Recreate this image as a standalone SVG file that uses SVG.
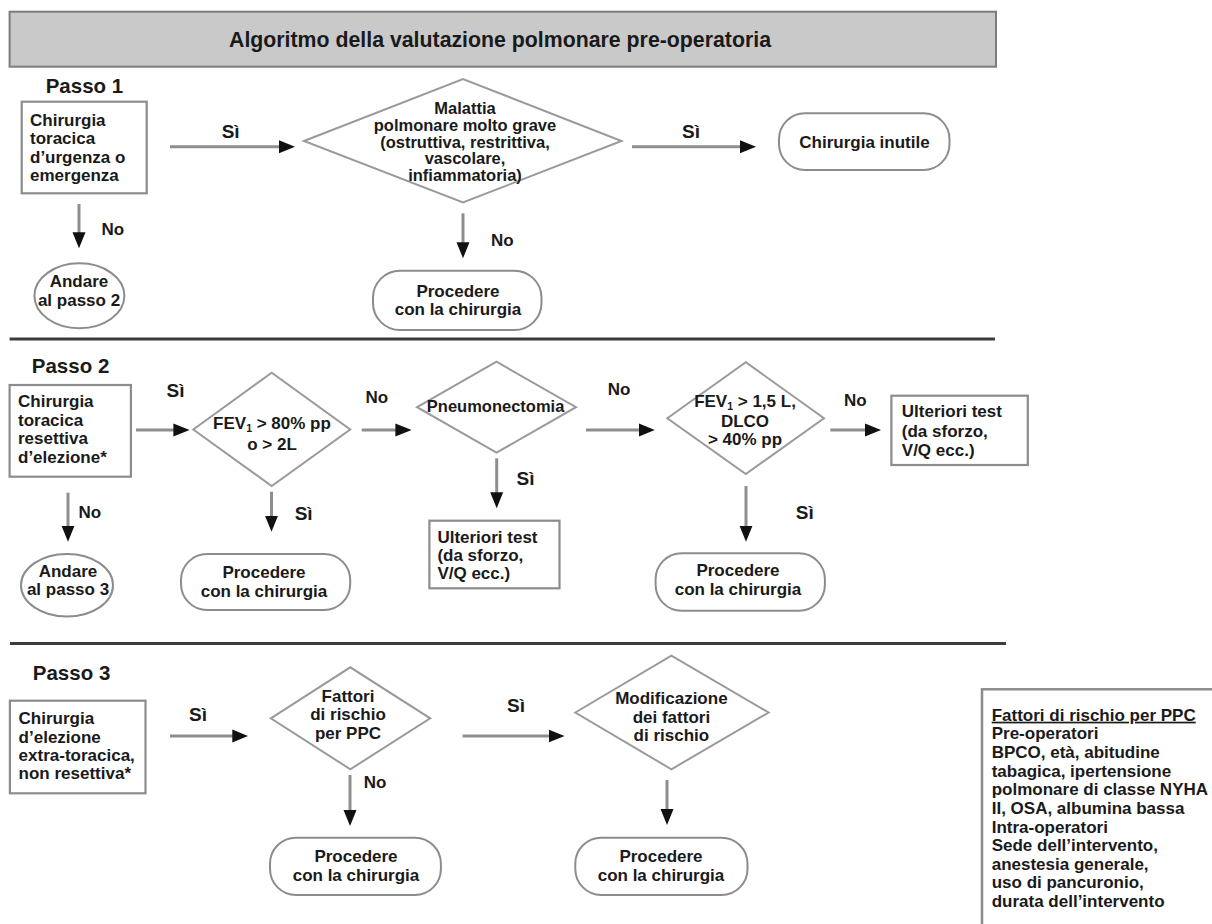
<svg xmlns="http://www.w3.org/2000/svg" width="1212" height="924" viewBox="0 0 1212 924">
<style>
  text { font-family: "Liberation Sans", Arial, "Helvetica", sans-serif; font-weight: bold; fill: #1a1a1a; }
  .t { font-size: 17px; }
  .ts { font-size: 16.5px; }
  .c { text-anchor: middle; }
  .step { font-size: 20.5px; }
  .lbl { font-size: 17px; }
  .si { font-size: 19px; }
  .title { font-size: 21.3px; text-anchor: middle; }
  .box { fill: #ffffff; stroke: #8c8c8c; stroke-width: 2.2; }
  .dia { fill: #ffffff; stroke: #9a9a9a; stroke-width: 2; }
  .term { fill: #ffffff; stroke: #8c8c8c; stroke-width: 2; }
  .conn { fill: none; stroke: #8e8e8e; stroke-width: 3; marker-end: url(#arr); }
  .sep { stroke: #3c3c3c; stroke-width: 3; }
</style>
<defs>
  <marker id="arr" markerUnits="userSpaceOnUse" markerWidth="16" markerHeight="14" refX="6" refY="7" orient="auto">
    <path d="M0,0.5 L16,7 L0,13.5 z" fill="#111111"/>
  </marker>
</defs>
<rect x="0" y="0" width="1212" height="924" fill="#ffffff"/>

<g id="title">
  <rect x="9.6" y="11.7" width="986.4" height="55" fill="#c9c9c9" stroke="#7c7c7c" stroke-width="2"/>
  <text class="title" x="500" y="47">Algoritmo della valutazione polmonare pre-operatoria</text>
</g>

<g id="separators">
  <line class="sep" x1="9.6" y1="339" x2="995" y2="339"/>
  <line class="sep" x1="10" y1="643.5" x2="1006" y2="643.5"/>
</g>

<g id="step-labels">
  <text class="step" x="45.7" y="92.7">Passo 1</text>
  <text class="step" x="31.8" y="373.3">Passo 2</text>
  <text class="step" x="32.8" y="680">Passo 3</text>
</g>

<g id="connectors">
  <line class="conn" x1="170" y1="146.7" x2="285" y2="146.7"/>
  <line class="conn" x1="632" y1="146.7" x2="746" y2="146.7"/>
  <line class="conn" x1="79" y1="204" x2="79" y2="238.3"/>
  <line class="conn" x1="463" y1="213.3" x2="463" y2="248.3"/>
  <line class="conn" x1="136" y1="430" x2="179.4" y2="430"/>
  <line class="conn" x1="68" y1="492.7" x2="68" y2="531.7"/>
  <line class="conn" x1="271.5" y1="491.7" x2="271.5" y2="521.7"/>
  <line class="conn" x1="361.7" y1="430" x2="401.4" y2="430"/>
  <line class="conn" x1="496.7" y1="458.3" x2="496.7" y2="498.3"/>
  <line class="conn" x1="586" y1="430" x2="644.8" y2="430"/>
  <line class="conn" x1="830.3" y1="430" x2="871" y2="430"/>
  <line class="conn" x1="746" y1="486" x2="746" y2="531.7"/>
  <line class="conn" x1="170" y1="736" x2="238.3" y2="736"/>
  <line class="conn" x1="350" y1="775" x2="350" y2="816"/>
  <line class="conn" x1="462.6" y1="736" x2="554.6" y2="736"/>
  <line class="conn" x1="667" y1="780" x2="667" y2="815"/>
  <text class="si" x="221.7" y="138">Sì</text>
  <text class="si" x="682" y="138">Sì</text>
  <text class="lbl" x="101.4" y="235">No</text>
  <text class="lbl" x="491" y="246">No</text>
  <text class="si" x="166.5" y="396.7">Sì</text>
  <text class="lbl" x="78.5" y="518.3">No</text>
  <text class="si" x="294.7" y="520">Sì</text>
  <text class="lbl" x="365.5" y="403.3">No</text>
  <text class="si" x="516.6" y="485">Sì</text>
  <text class="lbl" x="607.8" y="395">No</text>
  <text class="lbl" x="844" y="406">No</text>
  <text class="si" x="795.8" y="519.3">Sì</text>
  <text class="si" x="189" y="721">Sì</text>
  <text class="lbl" x="363.8" y="787.7">No</text>
  <text class="si" x="507" y="711.7">Sì</text>
</g>

<g id="n-urgenza">
  <rect class="box" x="21.7" y="101.7" width="125" height="91.6"/>
  <text class="t" x="30" y="125.7">Chirurgia</text>
  <text class="t" x="30" y="144">toracica</text>
  <text class="t" x="30" y="162.7">d’urgenza o</text>
  <text class="t" x="30" y="181">emergenza</text>
</g>

<g id="n-malattia">
  <polygon class="dia" points="304,141 463,79 621.5,141 463,202.5"/>
  <text class="ts c" x="465" y="114">Malattia</text>
  <text class="ts c" x="465" y="130.5">polmonare molto grave</text>
  <text class="ts c" x="465" y="147.5">(ostruttiva, restrittiva,</text>
  <text class="ts c" x="465" y="164">vascolare,</text>
  <text class="ts c" x="465" y="180.5">infiammatoria)</text>
</g>

<g id="n-inutile">
  <rect class="term" x="779" y="113.3" width="170.5" height="56.7" rx="26" ry="26"/>
  <text class="t c" x="864.5" y="147.7">Chirurgia inutile</text>
</g>

<g id="n-andare2">
  <ellipse class="term" cx="79.4" cy="295.8" rx="45" ry="32.5"/>
  <text class="t c" x="79" y="287.3">Andare</text>
  <text class="t c" x="79" y="306">al passo 2</text>
</g>

<g id="n-procedere1">
  <rect class="term" x="373" y="270.7" width="168.5" height="59.3" rx="27" ry="27"/>
  <text class="t c" x="458" y="296.7">Procedere</text>
  <text class="t c" x="458" y="315">con la chirurgia</text>
</g>

<g id="n-resettiva">
  <rect class="box" x="9.6" y="385" width="121.3" height="91.7"/>
  <text class="t" x="18" y="407.3">Chirurgia</text>
  <text class="t" x="18" y="426">toracica</text>
  <text class="t" x="18" y="444.3">resettiva</text>
  <text class="t" x="18" y="462.7">d’elezione*</text>
</g>

<g id="n-fev80">
  <polygon class="dia" points="193.3,429.5 271.7,372.7 350.2,429.5 271.7,486"/>
  <text class="t c" x="272" y="428.5">FEV<tspan font-size="10.5" dy="3">1</tspan><tspan dy="-3"> &gt; 80% pp</tspan></text>
  <text class="t c" x="272" y="449.5">o &gt; 2L</text>
</g>

<g id="n-andare3">
  <ellipse class="term" cx="67" cy="585.3" rx="46" ry="31.3"/>
  <text class="t c" x="68" y="577.3">Andare</text>
  <text class="t c" x="68" y="595">al passo 3</text>
</g>

<g id="n-procedere2a">
  <rect class="term" x="181" y="554" width="169.2" height="56" rx="26" ry="26"/>
  <text class="t c" x="264" y="578.3">Procedere</text>
  <text class="t c" x="264" y="596.7">con la chirurgia</text>
</g>

<g id="n-pneumo">
  <polygon class="dia" points="417.1,407.2 496.5,361.7 576,407.2 496.5,452.7"/>
  <text class="ts c" x="495.6" y="411.7">Pneumonectomia</text>
</g>

<g id="n-ulteriori-a">
  <rect class="box" x="429.4" y="520.7" width="130.1" height="67.6"/>
  <text class="t" x="437.4" y="542.7">Ulteriori test</text>
  <text class="t" x="437.4" y="560.7">(da sforzo,</text>
  <text class="t" x="437.4" y="579.3">V/Q ecc.)</text>
</g>

<g id="n-fev15">
  <polygon class="dia" points="667.3,418.2 745.8,362.3 824,418.2 745.8,474"/>
  <text class="t c" x="745" y="406.5">FEV<tspan font-size="10.5" dy="3">1</tspan><tspan dy="-3"> &gt; 1,5 L,</tspan></text>
  <text class="t c" x="745" y="426.5">DLCO</text>
  <text class="t c" x="745" y="445">&gt; 40% pp</text>
</g>

<g id="n-ulteriori-b">
  <rect class="box" x="891.4" y="395.7" width="136.4" height="69.3"/>
  <text class="t" x="901.8" y="417.3">Ulteriori test</text>
  <text class="t" x="901.8" y="436.7">(da sforzo,</text>
  <text class="t" x="901.8" y="455.7">V/Q ecc.)</text>
</g>

<g id="n-procedere2b">
  <rect class="term" x="655.6" y="553.3" width="169.3" height="57.4" rx="26" ry="26"/>
  <text class="t c" x="738" y="576">Procedere</text>
  <text class="t c" x="738" y="595">con la chirurgia</text>
</g>

<g id="n-extratoracica">
  <rect class="box" x="9.9" y="700.7" width="135.6" height="92.6"/>
  <text class="t" x="18.6" y="724">Chirurgia</text>
  <text class="t" x="18.6" y="742.7">d’elezione</text>
  <text class="t" x="18.6" y="761">extra-toracica,</text>
  <text class="t" x="18.6" y="779.3">non resettiva*</text>
</g>

<g id="n-fattori">
  <polygon class="dia" points="270.8,718.3 350.3,667.3 430.2,718.3 350.3,769.3"/>
  <text class="t c" x="348" y="701.7">Fattori</text>
  <text class="t c" x="348" y="720">di rischio</text>
  <text class="t c" x="348" y="739.3">per PPC</text>
</g>

<g id="n-procedere3a">
  <rect class="term" x="270" y="837.7" width="170.9" height="57.3" rx="26" ry="26"/>
  <text class="t c" x="356" y="861.7">Procedere</text>
  <text class="t c" x="356" y="880.7">con la chirurgia</text>
</g>

<g id="n-modificazione">
  <polygon class="dia" points="575.3,712.5 671.4,655.7 768.6,712.5 671.4,769.3"/>
  <text class="t c" x="671.4" y="704.3">Modificazione</text>
  <text class="t c" x="671.4" y="722.7">dei fattori</text>
  <text class="t c" x="671.4" y="741">di rischio</text>
</g>

<g id="n-procedere3b">
  <rect class="term" x="575.3" y="837.7" width="172.2" height="57.3" rx="26" ry="26"/>
  <text class="t c" x="661" y="861.7">Procedere</text>
  <text class="t c" x="661" y="880.7">con la chirurgia</text>
</g>

<g id="n-legenda">
  <rect x="982" y="689.3" width="245" height="250" fill="#ffffff" stroke="#8c8c8c" stroke-width="2.5"/>
  <text class="t" x="991.7" y="720.7" text-decoration="underline">Fattori di rischio per PPC</text>
  <text class="t" x="991.7" y="739.3">Pre-operatori</text>
  <text class="t" x="991.7" y="757.9">BPCO, età, abitudine</text>
  <text class="t" x="991.7" y="776.5">tabagica, ipertensione</text>
  <text class="t" x="991.7" y="795.2">polmonare di classe NYHA</text>
  <text class="t" x="991.7" y="813.8">II, OSA, albumina bassa</text>
  <text class="t" x="991.7" y="832.5">Intra-operatori</text>
  <text class="t" x="991.7" y="851.1">Sede dell’intervento,</text>
  <text class="t" x="991.7" y="869.8">anestesia generale,</text>
  <text class="t" x="991.7" y="888.4">uso di pancuronio,</text>
  <text class="t" x="991.7" y="907.1">durata dell’intervento</text>
</g>
</svg>
